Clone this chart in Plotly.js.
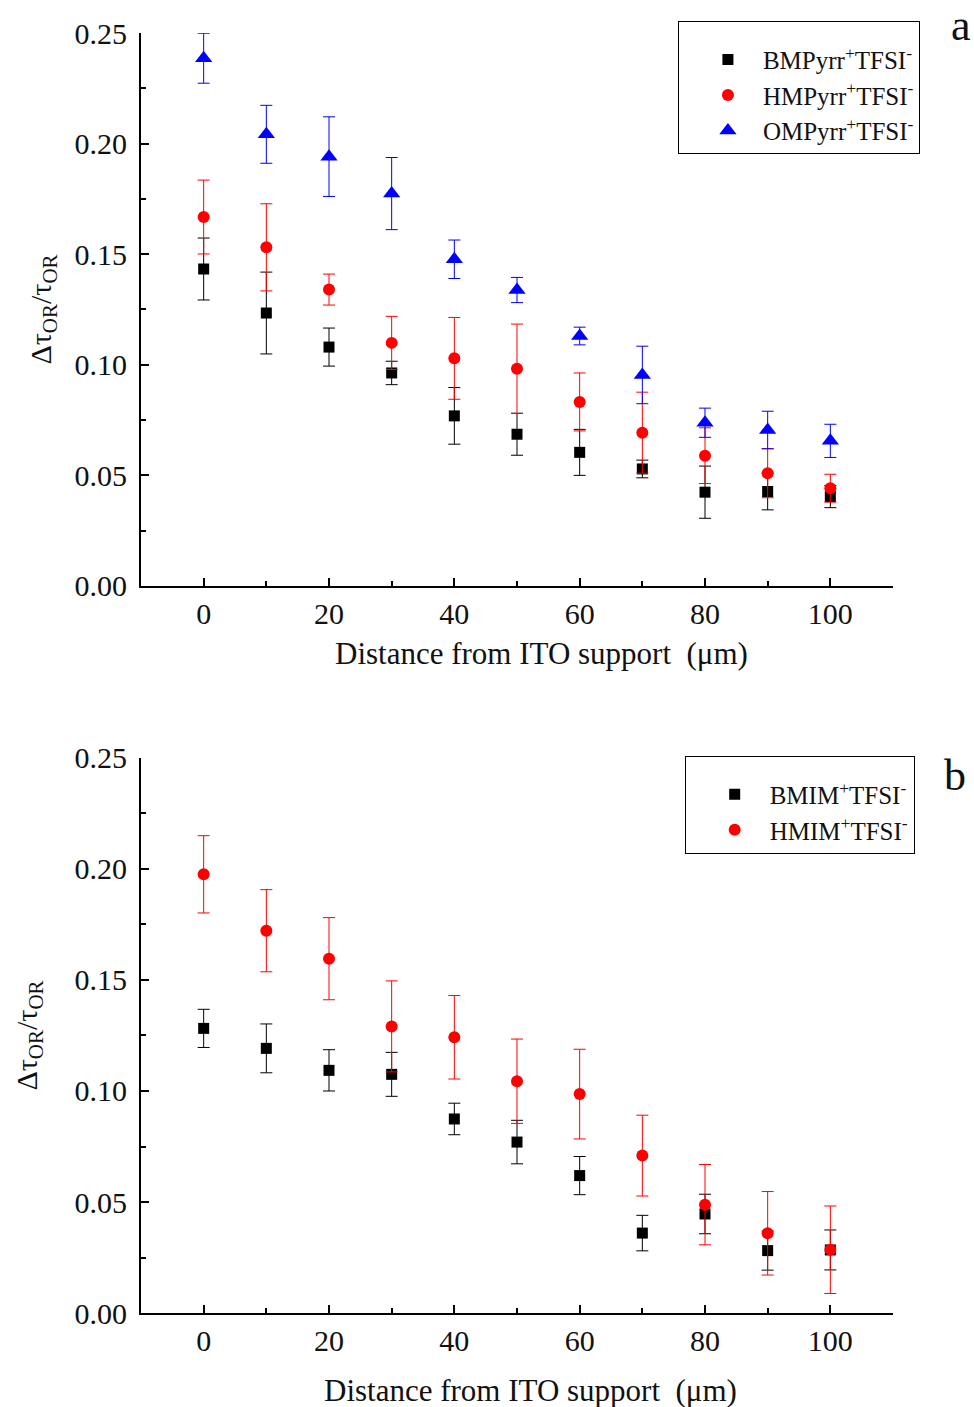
<!DOCTYPE html>
<html><head><meta charset="utf-8">
<script src="https://cdn.plot.ly/plotly-3.0.1.min.js"></script>
<style>body{margin:0;background:#fff}</style>
</head><body>
<div id="chart" style="width:974px;height:1407px"></div>
<script>
// Panel a
const xs = [0, 10, 20, 30, 40, 50, 60, 70, 80, 90, 100];
const bmpyrr = [0.1433, 0.1234, 0.1080, 0.0963, 0.0769, 0.0686, 0.0604, 0.0529, 0.0424, 0.0427, 0.0404];
const bmpyrrErr = [0.0140, 0.0185, 0.0086, 0.0053, 0.0128, 0.0095, 0.0104, 0.0040, 0.0118, 0.0083, 0.0050];
const hmpyrr = [0.1668, 0.1531, 0.1340, 0.1099, 0.1029, 0.0982, 0.0832, 0.0693, 0.0589, 0.0510, 0.0442];
const hmpyrrErr = [0.0167, 0.0197, 0.0070, 0.0120, 0.0185, 0.0202, 0.0131, 0.0183, 0.0126, 0.0111, 0.0063];
const ompyrr = [0.2386, 0.2042, 0.1941, 0.1774, 0.1477, 0.1338, 0.1130, 0.0954, 0.0738, 0.0705, 0.0656];
const ompyrrErr = [0.0113, 0.0131, 0.0180, 0.0163, 0.0087, 0.0057, 0.0040, 0.0130, 0.0066, 0.0085, 0.0075];
// Panel b
const bmim = [0.1282, 0.1192, 0.1093, 0.1075, 0.0874, 0.0770, 0.0619, 0.0360, 0.0446, 0.0281, 0.0284];
const bmimErr = [0.0086, 0.0110, 0.0093, 0.0099, 0.0071, 0.0098, 0.0086, 0.0080, 0.0089, 0.0088, 0.0090];
const hmim = [0.1976, 0.1722, 0.1596, 0.1291, 0.1242, 0.1044, 0.0986, 0.0709, 0.0488, 0.0359, 0.0285];
const hmimErr = [0.0174, 0.0185, 0.0185, 0.0205, 0.0188, 0.0190, 0.0202, 0.0182, 0.0181, 0.0188, 0.0197];

const namesA = ['BMPyrr<sup>+</sup>TFSI<sup>-</sup>', 'HMPyrr<sup>+</sup>TFSI<sup>-</sup>', 'OMPyrr<sup>+</sup>TFSI<sup>-</sup>'];
const namesB = ['BMIM<sup>+</sup>TFSI<sup>-</sup>', 'HMIM<sup>+</sup>TFSI<sup>-</sup>'];
const xTitle = 'Distance from ITO support  (μm)';
const yTitle = 'Δτ<sub>OR</sub>/τ<sub>OR</sub>';
const panelLabels = ['a', 'b'];

const FONT = 'Liberation Serif, Times New Roman, serif';
const TXT = '#111';

function tr(y, e, name, color, symbol, size, xa, ya, leg) {
  return {
    x: xs, y: y, name: name, type: 'scatter', mode: 'markers',
    xaxis: xa, yaxis: ya, legend: leg,
    marker: {color: color, symbol: symbol, size: size},
    error_y: {type: 'data', array: e, visible: true, color: color, thickness: 1, width: 6}
  };
}

const data = [
  tr(bmpyrr, bmpyrrErr, namesA[0], '#000000', 'square', 11, 'x', 'y', 'legend'),
  tr(hmpyrr, hmpyrrErr, namesA[1], '#ff0000', 'circle', 12, 'x', 'y', 'legend'),
  tr(ompyrr, ompyrrErr, namesA[2], '#0000ff', 'triangle-up', 15, 'x', 'y', 'legend'),
  tr(bmim, bmimErr, namesB[0], '#000000', 'square', 11, 'x2', 'y2', 'legend2'),
  tr(hmim, hmimErr, namesB[1], '#ff0000', 'circle', 12, 'x2', 'y2', 'legend2')
];

function xax(anchor) {
  return {
    domain: [0, 1], anchor: anchor, range: [-10, 110], dtick: 20, tick0: 0,
    showgrid: false, zeroline: false, showline: true, linewidth: 2, linecolor: '#000',
    ticks: 'inside', ticklen: 8, tickwidth: 2, tickcolor: '#000',
    minor: {dtick: 10, ticks: 'inside', ticklen: 5, tickwidth: 2, tickcolor: '#000', showgrid: false},
    tickfont: {family: FONT, size: 30, color: TXT},
    ticklabelstandoff: 0
  };
}
function yax(anchor, dom, tstand) {
  return {
    domain: dom, anchor: anchor, range: [0, 0.25], dtick: 0.05, tickformat: '.2f',
    showgrid: false, zeroline: false, showline: true, linewidth: 2, linecolor: '#000',
    ticks: 'inside', ticklen: 8, tickwidth: 2, tickcolor: '#000',
    minor: {dtick: 0.025, ticks: 'inside', ticklen: 5, tickwidth: 2, tickcolor: '#000', showgrid: false},
    tickfont: {family: FONT, size: 30, color: TXT},
    ticklabelstandoff: 6,
    title: {text: yTitle, font: {family: FONT, size: 30, color: TXT}, standoff: tstand}
  };
}

const legStyle = {
  bgcolor: '#fff', bordercolor: '#000', borderwidth: 1,
  font: {family: FONT, size: 25, color: TXT},
  xanchor: 'left', yanchor: 'top', tracegroupgap: 0, itemwidth: 60, indentation: 14,
  title: {text: '&nbsp;', font: {family: FONT, size: 11}}
};

function ann(text, x, y, size) {
  return {text: text, xref: 'paper', yref: 'paper', x: x, y: y, xanchor: 'center', yanchor: 'middle',
          showarrow: false, font: {family: FONT, size: size, color: TXT}};
}

const layout = {
  width: 974, height: 1407,
  margin: {l: 141, r: 81, t: 33, b: 94},
  paper_bgcolor: '#fff', plot_bgcolor: '#fff',
  showlegend: true,
  xaxis: xax('y'),
  yaxis: yax('x', [0.568, 1], 14),
  xaxis2: xax('y2'),
  yaxis2: yax('x2', [0, 0.4336], 28),
  legend: Object.assign({x: 0.714, y: 1.009}, legStyle),
  legend2: Object.assign({x: 0.723, y: 0.435}, legStyle),
  annotations: [
    ann(xTitle, 0.532, 0.5156, 31),
    ann(xTitle, 0.5186, -0.0609, 31),
    ann(panelLabels[0], 1.0904, 1.0055, 44),
    ann(panelLabels[1], 1.082, 0.4203, 44)
  ]
};

Plotly.newPlot('chart', data, layout, {displayModeBar: false, staticPlot: true});
</script>
</body></html>
